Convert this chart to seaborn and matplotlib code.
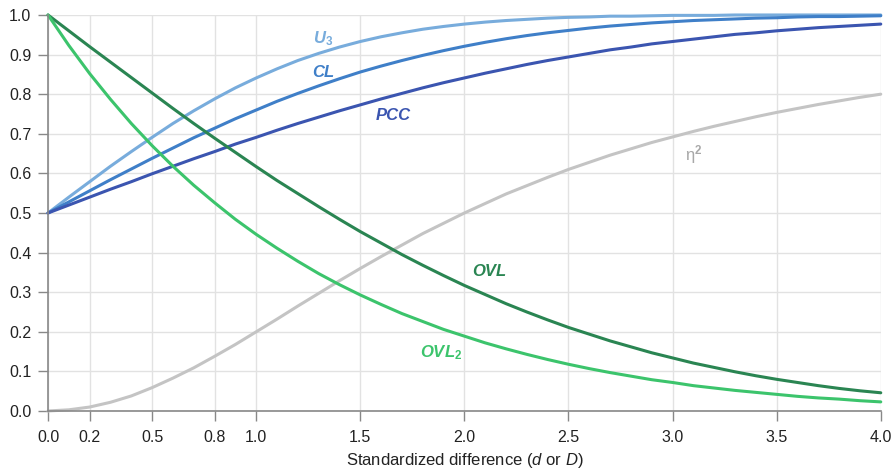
import pandas as pd
import seaborn as sns
from matplotlib import pyplot as plt

# values at d = 0, 0.1, ..., 4.0
d = [0.0, 0.1, 0.2, 0.3, 0.4, 0.5, 0.6, 0.7, 0.8, 0.9,
     1.0, 1.1, 1.2, 1.3, 1.4, 1.5, 1.6, 1.7, 1.8, 1.9,
     2.0, 2.1, 2.2, 2.3, 2.4, 2.5, 2.6, 2.7, 2.8, 2.9,
     3.0, 3.1, 3.2, 3.3, 3.4, 3.5, 3.6, 3.7, 3.8, 3.9, 4.0]
u3 = [.500, .540, .579, .618, .655, .691, .726, .758, .788, .816,
      .841, .864, .885, .903, .919, .933, .945, .955, .964, .971,
      .977, .982, .986, .989, .992, .994, .995, .997, .997, .998,
      .999, .999, .999, 1.0, 1.0, 1.0, 1.0, 1.0, 1.0, 1.0, 1.0]
cl = [.500, .528, .556, .584, .611, .638, .664, .690, .714, .738,
      .760, .782, .802, .821, .839, .856, .871, .885, .898, .910,
      .921, .931, .940, .948, .955, .961, .967, .972, .976, .980,
      .983, .986, .988, .990, .992, .993, .995, .996, .996, .997, .998]
pcc = [.500, .520, .540, .560, .579, .599, .618, .637, .655, .674,
       .691, .709, .726, .742, .758, .773, .788, .802, .816, .829,
       .841, .853, .864, .875, .885, .894, .903, .912, .919, .927,
       .933, .939, .945, .951, .955, .960, .964, .968, .971, .974, .977]
ovl = [1.000, .960, .920, .881, .842, .803, .764, .726, .689, .653,
       .617, .582, .549, .516, .484, .453, .424, .395, .368, .342,
       .317, .294, .271, .250, .230, .211, .194, .177, .162, .147,
       .134, .121, .110, .099, .089, .080, .072, .064, .057, .051, .046]
ovl2 = [1.000, .923, .852, .787, .726, .670, .618, .570, .526, .484,
        .446, .411, .378, .347, .319, .293, .269, .246, .226, .206,
        .189, .172, .157, .143, .130, .118, .107, .097, .088, .079,
        .072, .064, .058, .052, .047, .042, .037, .033, .030, .026, .023]
eta2 = [.000, .003, .010, .022, .038, .059, .083, .109, .138, .168,
        .200, .232, .265, .297, .329, .360, .390, .419, .448, .474,
        .500, .524, .548, .569, .590, .610, .628, .646, .662, .678,
        .692, .706, .719, .731, .743, .754, .764, .774, .783, .792, .800]

x_ticks = [0.0, 0.2, 0.5, 0.8, 1.0, 1.5, 2.0, 2.5, 3.0, 3.5, 4.0]
y_ticks = [0.0, 0.1, 0.2, 0.3, 0.4, 0.5, 0.6, 0.7, 0.8, 0.9, 1.0]

sns.set_style("whitegrid")
plt.rcParams['font.family'] = ['Liberation Sans', 'DejaVu Sans']
plt.rcParams['mathtext.fontset'] = 'custom'
plt.rcParams['mathtext.rm'] = 'Liberation Sans'
plt.rcParams['mathtext.it'] = 'Liberation Sans:italic'
plt.rcParams['mathtext.bf'] = 'Liberation Sans:bold'

df = pd.DataFrame({'d': d, 'U3': u3, 'CL': cl, 'PCC': pcc,
                   'OVL': ovl, 'OVL2': ovl2, 'eta2': eta2})

colors = {'eta2': '#c4c4c4', 'U3': '#78acdc', 'CL': '#3f7fc8', 'PCC': '#3b55b0',
          'OVL': '#2a8552', 'OVL2': '#3cc46c'}

fig = plt.figure(figsize=(8.96, 4.71), dpi=100)
ax = fig.add_axes([0.0536, 0.1274, 0.9294, 0.8408])

for col in ['eta2', 'U3', 'CL', 'PCC', 'OVL', 'OVL2']:
    sns.lineplot(x='d', y=col, data=df, color=colors[col], linewidth=2.2, ax=ax, clip_on=False)

ax.set_xlim(0, 4)
ax.set_ylim(0, 1)
ax.set_xticks(x_ticks)
ax.set_xticklabels(['%.1f' % t for t in x_ticks])
ax.set_yticks(y_ticks)
ax.set_yticklabels(['%.1f' % t for t in y_ticks])
ax.grid(color='#e2e2e2', linewidth=1.0)
ax.tick_params(axis='both', bottom=True, left=True, labelsize=11.5, labelcolor='#222222',
               color='#888888', length=7, width=1, direction='out')
ax.tick_params(axis='x', pad=7)
ax.tick_params(axis='y', pad=5)
for s in ['top', 'right']:
    ax.spines[s].set_visible(False)
for s in ['left', 'bottom']:
    ax.spines[s].set_color('#888888')
    ax.spines[s].set_linewidth(1.2)

ax.set_xlabel(r'Standardized difference ($\mathit{d}$ or $\mathit{D}$)', fontsize=12, color='#222222', labelpad=4)
ax.set_ylabel('')

lbl = dict(fontsize=12, fontstyle='italic', fontweight='bold', ha='center', va='center')
ax.text(1.32, 0.94, r'U$_\mathbf{3}$', color=colors['U3'], **lbl)
ax.text(1.32, 0.856, 'CL', color=colors['CL'], **lbl)
ax.text(1.66, 0.747, 'PCC', color=colors['PCC'], **lbl)
ax.text(2.12, 0.351, 'OVL', color=colors['OVL'], **lbl)
ax.text(1.89, 0.147, r'OVL$_\mathbf{2}$', color=colors['OVL2'], **lbl)
ax.text(3.1, 0.648, r'η$^\mathbf{2}$', color='#a8a8a8', fontsize=12, ha='center', va='center')

plt.savefig('out.png', dpi=100)
